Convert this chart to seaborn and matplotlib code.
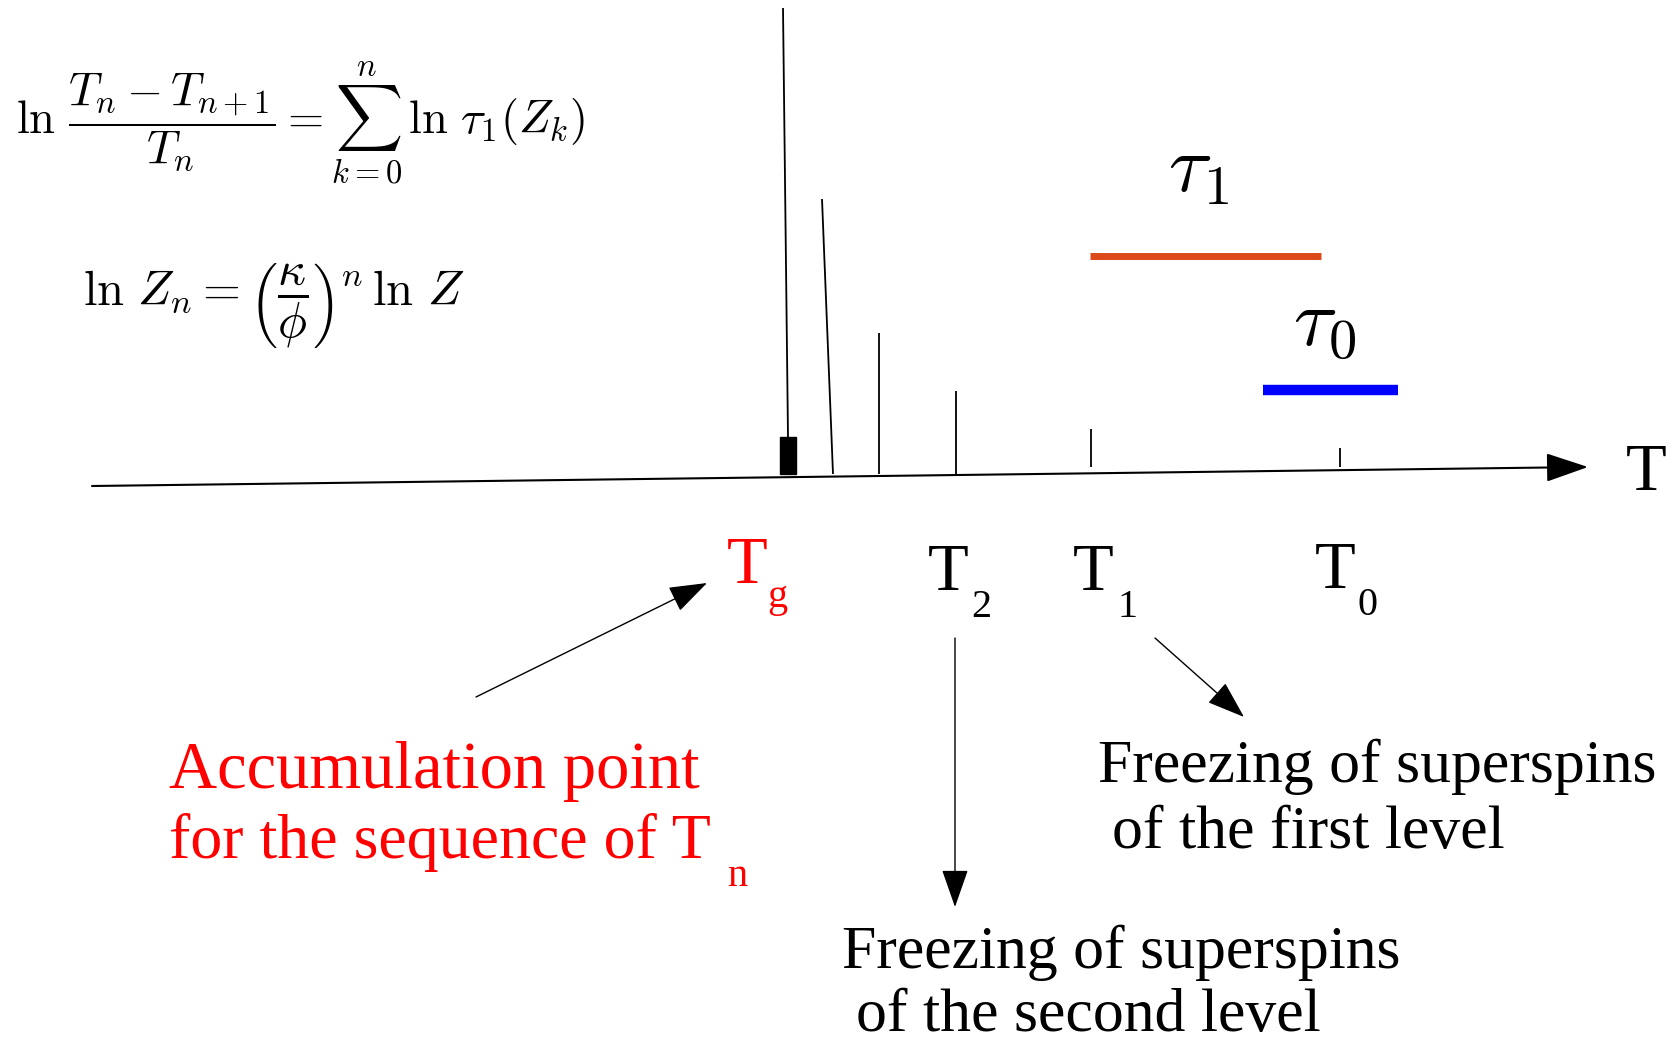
import matplotlib
matplotlib.use("Agg")
import matplotlib.pyplot as plt
import seaborn as sns
import pandas as pd
from matplotlib.patches import Rectangle

# canvas in pixel units of the reference (1677 x 1045, y grows downward)
W, H = 1677, 1045

# temperature axis: start, end of line, arrow tip
axis_x = [92, 1588]
axis_y = [486, 467]

# ticks of the sequence T_g < ... < T_2 < T_1 < T_0
tick_x_bottom = [788, 833, 879, 956, 1091, 1340]
tick_x_top = [783, 822, 879, 956, 1091, 1340]
tick_y_top = [8, 199, 333, 391, 429, 448]
tick_y_bottom = [437, 474, 474, 475, 467, 467]

# accumulation block at T_g
block_x = [780, 796]
block_y = [437, 474]

# relaxation time bars
tau_names = ["tau1", "tau0"]
tau_x_start = [1090, 1263]
tau_x_end = [1321, 1398]
tau_y = [256, 390]
tau_colors = ["#DC4A1A", "#0000FF"]
tau_widths = [5, 7.5]
tau_labels = [r"$\tau_1$", r"$\tau_0$"]
tau_label_x = [1168, 1293]
tau_label_y = [172, 326]

# temperature labels
t_labels = ["g", "2", "1", "0"]
t_label_x = [727, 928, 1073, 1315]
t_label_base = [583, 590, 590, 588]
t_sub_x = [767, 971, 1118, 1358]
t_sub_base = [607, 617, 617, 615]
t_colors = ["red", "black", "black", "black"]

sns.set_theme(style="white")
plt.rcParams["font.family"] = ["Liberation Serif", "DejaVu Serif"]
plt.rcParams["mathtext.fontset"] = "cm"
plt.rcParams["text.color"] = "black"

fig = plt.figure(figsize=(W / 100, H / 100), dpi=100)
ax = fig.add_axes([0, 0, 1, 1])

# axis with arrow
ax.annotate("", xy=(axis_x[1], axis_y[1]), xytext=(axis_x[0], axis_y[0]),
            arrowprops=dict(arrowstyle="-|>,head_length=2.2,head_width=0.75",
                            color="black", lw=1.5, shrinkA=0, shrinkB=0))
ax.text(1626, 490, "T", fontsize=48, va="baseline", ha="left", color="black")

# ticks
for xb, xt, yt, yb in zip(tick_x_bottom, tick_x_top, tick_y_top, tick_y_bottom):
    ax.plot([xb, xt], [yb, yt], color="black", lw=1.3, solid_capstyle="butt")
ax.add_patch(Rectangle((block_x[0], block_y[0]), block_x[1] - block_x[0],
                       block_y[1] - block_y[0], color="black"))

# tau bars
bars = pd.DataFrame({
    "name": [n for n in tau_names for _ in range(2)],
    "x": [v for pair in zip(tau_x_start, tau_x_end) for v in pair],
    "y": [v for v in tau_y for _ in range(2)],
})
for name, color, lw in zip(tau_names, tau_colors, tau_widths):
    sns.lineplot(data=bars[bars["name"] == name], x="x", y="y", color=color,
                 lw=lw, ax=ax, solid_capstyle="butt", legend=False)
for lab, x, y in zip(tau_labels, tau_label_x, tau_label_y):
    ax.text(x, y, lab, fontsize=58, va="center", ha="left", color="black")

ax.set_xlim(0, W)
ax.set_ylim(H, 0)
ax.axis("off")

# T labels with subscripts
for sub, x, yb, sx, sy, c in zip(t_labels, t_label_x, t_label_base, t_sub_x,
                                  t_sub_base, t_colors):
    ax.text(x, yb, "T", fontsize=48, color=c, va="baseline", ha="left")
    ax.text(sx, sy, sub, fontsize=29, color=c, va="baseline", ha="left")

# formulas
ax.text(16, 123,
        r"$\ln\,\dfrac{T_n - T_{n+1}}{T_n} = \sum_{k=0}^{n}\,\ln\,\tau_1(Z_k)$",
        fontsize=33.5, va="center", ha="left", color="black")
ax.text(83, 306, r"$\ln\,Z_n = \left(\dfrac{\kappa}{\phi}\right)^n\,\ln\,Z$",
        fontsize=35, va="center", ha="left", color="black")

# annotation arrows
arrow = dict(arrowstyle="-|>,head_length=2.0,head_width=0.7", color="black",
             lw=1.0, shrinkA=0, shrinkB=0)
ax.annotate("", xy=(707, 583), xytext=(476, 697), arrowprops=arrow)
ax.annotate("", xy=(955, 907), xytext=(955, 638), arrowprops=arrow)
ax.annotate("", xy=(1244, 717), xytext=(1155, 638), arrowprops=arrow)

# annotation texts
ax.text(169, 788, "Accumulation point", fontsize=48, color="red", va="baseline")
ax.text(169, 858, "for the sequence of T", fontsize=46, color="red", va="baseline")
ax.text(727, 886, "n", fontsize=29, color="red", va="baseline")
ax.text(1098, 782, "Freezing of superspins", fontsize=44.5, va="baseline", color="black")
ax.text(1112, 848, "of the first level", fontsize=44.5, va="baseline", color="black")
ax.text(842, 968, "Freezing of superspins", fontsize=44.5, va="baseline", color="black")
ax.text(856, 1031, "of the second level", fontsize=44.5, va="baseline", color="black")

fig.savefig("out.png", dpi=100, facecolor="white")
